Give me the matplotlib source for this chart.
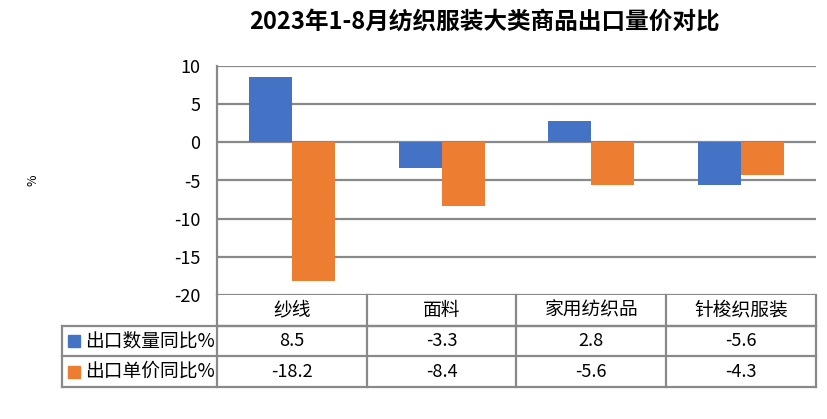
import matplotlib
matplotlib.use("Agg")
import matplotlib.pyplot as plt
import matplotlib.transforms as mtransforms
from matplotlib.lines import Line2D
from matplotlib.patches import Rectangle
import numpy as np

plt.rcParams['font.family'] = ['Noto Sans CJK SC', 'DejaVu Sans']

title = "2023年1-8月纺织服装大类商品出口量价对比"
categories = ["纱线", "面料", "家用纺织品", "针梭织服装"]
series_names = ["出口数量同比%", "出口单价同比%"]
qty_yoy = [8.5, -3.3, 2.8, -5.6]
price_yoy = [-18.2, -8.4, -5.6, -4.3]
yticks = [10, 5, 0, -5, -10, -15, -20]

blue = "#4472C4"
orange = "#ED7D31"
grid_c = "#898989"

fig = plt.figure(figsize=(8.27, 4.19), dpi=100)
ax = fig.add_axes([217 / 827, 1 - 295 / 419, 599 / 827, 229 / 419])

x = np.arange(len(categories))
w = 0.287
ax.bar(x - w / 2, qty_yoy, w, color=blue, zorder=3)
ax.bar(x + w / 2, price_yoy, w, color=orange, zorder=3)

ax.set_xlim(-0.5, len(categories) - 0.5)
ax.set_ylim(-20, 10)
ax.set_yticks(yticks)
ax.set_yticklabels([str(v) for v in yticks], fontsize=13)
ax.tick_params(axis='y', length=0, pad=12)
ax.set_xticks([])
for v in yticks:
    ax.axhline(v, color=grid_c, lw=1.6, zorder=1)
for s in ["top", "right", "bottom"]:
    ax.spines[s].set_visible(False)
ax.spines["left"].set_color(grid_c)
ax.spines["left"].set_linewidth(1.6)

fig.text(33 / 827, 1 - 180 / 419, "%", rotation=90, fontsize=9,
         ha="center", va="center")
fig.suptitle(title, x=485 / 827, y=1 - 22 / 419, fontsize=17,
             fontweight="bold", va="center")

# data table under the plot
tr = mtransforms.blended_transform_factory(ax.transData, ax.transAxes)
row_h = 30.6 / 229
left_x = -0.5 - 155 / 150
right_x = len(categories) - 0.5
line_kw = dict(color=grid_c, lw=1.6, transform=tr, clip_on=False)

# horizontal lines
ax.add_line(Line2D([-0.5, right_x], [-row_h, -row_h], **line_kw))
for k in (1, 2, 3):
    ax.add_line(Line2D([left_x, right_x], [-k * row_h, -k * row_h], **line_kw))
ax.add_line(Line2D([-0.5, -0.5], [0, -3 * row_h], **line_kw))
ax.add_line(Line2D([left_x, left_x], [-row_h, -3 * row_h], **line_kw))
for i in range(len(categories)):
    ax.add_line(Line2D([i + 0.5, i + 0.5], [0, -3 * row_h], **line_kw))

for i, c in enumerate(categories):
    ax.text(i, -0.5 * row_h, c, transform=tr, ha="center", va="center",
            fontsize=13.5)
    ax.text(i, -1.5 * row_h, f"{qty_yoy[i]:g}", transform=tr, ha="center",
            va="center", fontsize=13)
    ax.text(i, -2.5 * row_h, f"{price_yoy[i]:g}", transform=tr, ha="center",
            va="center", fontsize=13)

for k, (name, col) in enumerate(zip(series_names, [blue, orange])):
    yc = -(1.5 + k) * row_h
    ax.add_patch(Rectangle((left_x + 6 / 150, yc - 6 / 229), 12 / 150, 12 / 229,
                           color=col, transform=tr, clip_on=False))
    ax.text(left_x + 23 / 150, yc, name, transform=tr, ha="left",
            va="center", fontsize=13.5)

fig.savefig("out.png", dpi=100)
